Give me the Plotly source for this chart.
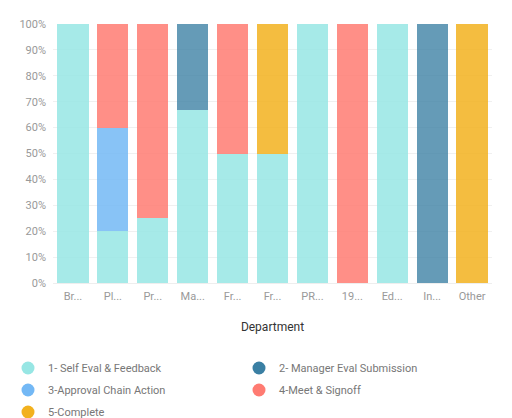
import plotly.graph_objects as go

categories = ["Br...", "Pl...", "Pr...", "Ma...", "Fr...", "Fr...", "PR...", "19...", "Ed...", "In...", "Other"]
series_names = ["1- Self Eval & Feedback", "2- Manager Eval Submission", "3-Approval Chain Action",
                "4-Meet & Signoff", "5-Complete"]
self_eval = [100, 20, 25, 66.7, 50, 50, 100, 0, 100, 0, 0]
manager_eval = [0, 0, 0, 33.3, 0, 0, 0, 0, 0, 100, 0]
approval = [0, 40, 0, 0, 0, 0, 0, 0, 0, 0, 0]
meet_signoff = [0, 40, 75, 0, 50, 0, 0, 100, 0, 0, 0]
complete = [0, 0, 0, 0, 0, 50, 0, 0, 0, 0, 100]
y_ticks = [0, 10, 20, 30, 40, 50, 60, 70, 80, 90, 100]

colors = ["#97e6e4", "#3a7fa3", "#73b8f5", "#ff7b72", "#f2b11e"]
opacities = [0.85, 0.78, 0.85, 0.85, 0.85]
values = [self_eval, manager_eval, approval, meet_signoff, complete]

W, H = 504, 410  # page body has 8px margin
# legend slots: (x, row y) in figure pixels
legend_slots = [(-6, 360), (251, 360), (-6, 382), (251, 382), (-6, 404)]

x = list(range(len(categories)))
fig = go.Figure()
for name, vals, col, op in zip(series_names, values, colors, opacities):
    fig.add_trace(go.Bar(x=x, y=vals, name=name, marker=dict(color=col, opacity=op, line=dict(width=0)),
                         showlegend=False))
legend_layouts = {}
for i, (name, col) in enumerate(zip(series_names, colors)):
    key = "legend" if i == 0 else f"legend{i + 1}"
    fig.add_trace(go.Scatter(x=[None], y=[None], mode="markers", name=name, legend=key,
                             marker=dict(symbol="circle", size=13, color=col)))
    sx, sy = legend_slots[i]
    legend_layouts[key] = dict(orientation="h", xref="container", yref="container",
                               x=(sx - 20) / W, xanchor="left", y=1 - sy / H, yanchor="middle",
                               font=dict(size=11, color="#777777"), bgcolor="rgba(0,0,0,0)")

fig.update_layout(
    width=W, height=H,
    barmode="stack", bargap=0.22,
    plot_bgcolor="white", paper_bgcolor="white",
    margin=dict(l=45, r=20, t=16, b=135, autoexpand=False),
    font=dict(family="Roboto", size=11, color="#999999"),
    **legend_layouts,
)
fig.update_xaxes(tickvals=x, ticktext=categories, range=[-0.5, len(categories) - 0.5],
                 showline=True, linecolor="#eeeeee", ticks="", tickangle=0, ticklabelstandoff=3,
                 title=dict(text="Department", font=dict(size=12, color="#333333"), standoff=20))
fig.update_yaxes(range=[0, 100], tickvals=y_ticks, ticktext=[f"{v}%" for v in y_ticks],
                 showgrid=True, gridcolor="#f0f0f0", zeroline=False, ticks="", ticklabelstandoff=6)
fig.write_html("out.html")
